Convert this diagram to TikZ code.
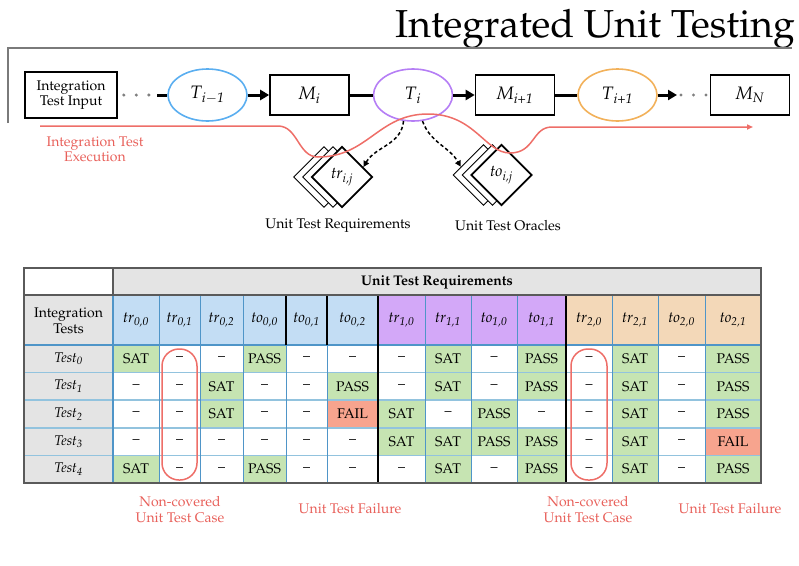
\documentclass[tikz,border=0pt]{standalone}
\usepackage[T1]{fontenc}
\usepackage{mathpazo}
\usetikzlibrary{shapes.geometric,arrows.meta}

\definecolor{tblue}{HTML}{5AAEF0}
\definecolor{tpurple}{HTML}{B57EF5}
\definecolor{torange}{HTML}{F2B15A}
\definecolor{execred}{HTML}{EE6E68}
\definecolor{notered}{HTML}{E8605A}
\definecolor{hblue}{HTML}{C3DDF4}
\definecolor{hpurple}{HTML}{D3A8F8}
\definecolor{hpeach}{HTML}{F3D8B8}
\definecolor{satgreen}{HTML}{C6E4B2}
\definecolor{failred}{HTML}{F7A48E}
\definecolor{hgray}{HTML}{E4E4E4}
\definecolor{frame}{HTML}{5A5A5A}
\definecolor{gridblue}{HTML}{4F95C8}
\definecolor{rowblue}{HTML}{92C3DE}
\definecolor{rulegray}{HTML}{7A7A7A}

% italic symbol with italic subscript
\newcommand{\lbl}[2]{\textit{#1}\textsubscript{\textit{#2}}}
\newcommand{\fs}[1]{\fontsize{#1}{#1}\selectfont}

% cell texts and fills by code
\def\txtS{SAT}\def\txtP{PASS}\def\txtF{FAIL}\def\txtD{--}
\def\colS{satgreen}\def\colP{satgreen}\def\colF{failred}\def\colD{white}
% column edges of the table
\def\xe{{113,159,200,243,286,327,378,425,471,517,566,612,658,705,761}}

\begin{document}
\begin{tikzpicture}[x=1pt,y=-1pt,
  inbox/.style={draw,line width=1.6pt,minimum width=92pt,minimum height=46pt,
    inner sep=0pt,align=center,font=\fontsize{14}{15.5}\selectfont},
  modbox/.style={draw,line width=1.6pt,minimum width=79pt,minimum height=40pt,
    inner sep=0pt,font=\fs{18}},
  stage/.style={ellipse,draw,line width=1.6pt,minimum width=79pt,minimum height=52pt,
    inner sep=0pt,font=\fs{18}},
  link/.style={line width=3pt},
  linkarrow/.style={line width=3pt,-{Triangle[length=9pt,width=10pt]}},
  flowdots/.style={line width=3.4pt,line cap=round,dash pattern=on 0pt off 12.5pt,color=gray},
  card/.style={diamond,draw,fill=white,minimum size=61pt,inner sep=0pt,line width=0.9pt},
  cardfront/.style={card,line width=1.8pt,font=\fs{16}},
  probe/.style={line width=1.5pt,dash pattern=on 3.5pt off 2.5pt,-{Triangle[length=6pt,width=6pt]}},
  exec/.style={execred,line width=1.5pt,-{Triangle[length=6pt,width=5pt]}},
  note/.style={text=notered,align=center,font=\fontsize{14}{15.5}\selectfont},
  caption/.style={font=\fs{14}},
  cell/.style={inner sep=0pt,font=\fs{14}},
  pill/.style={draw=execred,line width=1.5pt,rounded corners=17pt,inner sep=0pt}
]
\useasboundingbox (0,0) rectangle (799,565);

% ---------- title and frame ----------
\node[anchor=base east,font=\fs{39},inner sep=0pt] (title) at (795,37) {Integrated Unit Testing};
\draw[rulegray,line width=2pt] (8,123) -- (8,48) -- (792,48);

% ---------- integration flow ----------
\node[inbox] (input) at (71,95) {Integration\\Test Input};
\node[stage,draw=tblue] (tprev) at (207.5,95) {\lbl{T}{i$-$1}};
\node[modbox] (mi) at (309.5,95) {\lbl{M}{i}};
\node[stage,draw=tpurple] (ti) at (413,95) {\lbl{T}{i}};
\node[modbox] (mnext) at (515,95) {\lbl{M}{i+1}};
\node[stage,draw=torange] (tnext) at (617.5,95) {\lbl{T}{i+1}};
\node[modbox] (mn) at (750,95) {\lbl{M}{N}};

\coordinate (dl) at (157,95);
\coordinate (ar) at (677,95);
\draw[flowdots] ([xshift=6pt]input.east) -- ([xshift=-6pt]dl);
\draw[link] (dl) -- (tprev.west);
\draw[linkarrow] (tprev.east) -- (mi.west);
\draw[link] (mi.east) -- (ti.west);
\draw[linkarrow] (ti.east) -- (mnext.west);
\draw[link] (mnext.east) -- (tnext.west);
\draw[linkarrow] (tnext.east) -- (ar);
\draw[flowdots] ([xshift=4pt]ar) -- ([xshift=-3pt]mn.west);

% ---------- unit test requirement / oracle cards ----------
\node[card] (trA) at (324,177) {};
\node[card] (trB) at (333,177) {};
\node[cardfront] (trC) at (342,177) {\lbl{tr}{i,j}};
\node[card] (toA) at (483.5,175) {};
\node[card] (toB) at (492.5,175) {};
\node[cardfront] (toC) at (501.5,175) {\lbl{to}{i,j}};
\node[caption] (reqlbl) at (338,226) {Unit Test Requirements};
\node[caption] (orclbl) at (508,226) {Unit Test Oracles};

\draw[probe] (ti.250) to[out=-95,in=60] (trC.25);
\draw[probe] (ti.290) to[out=-70,in=120] (toA.160);

% ---------- integration test execution path ----------
\coordinate (es) at (40,126);
\coordinate (ee) at (753,127);
\draw[exec] (es) -- (278,126)
  .. controls (298,126) and (298,157) .. (318,157)
  .. controls (368,157) and (378,114) .. (428,114)
  .. controls (475,114) and (485,153) .. (510,153)
  .. controls (535,153) and (532,127) .. (552,127) -- (ee);
\node[note] (execlbl) at (95,149.5) {Integration Test\\Execution};

% ---------- table: header ----------
\fill[white] (24,268) rectangle (113,295);
\fill[hgray] (113,268) rectangle (761,295);
\node[font=\bfseries\fs{14}] (utr) at (437,282) {Unit Test Requirements};
\fill[hgray] (24,295) rectangle (113,483);
\node[align=center,font=\fontsize{14}{16}\selectfont] (itlbl) at (68.5,321) {Integration\\Tests};

\foreach \nm/\ix/\hc [count=\i] in {tr/{0,0}/hblue,tr/{0,1}/hblue,tr/{0,2}/hblue,
    to/{0,0}/hblue,to/{0,1}/hblue,to/{0,2}/hblue,tr/{1,0}/hpurple,tr/{1,1}/hpurple,
    to/{1,0}/hpurple,to/{1,1}/hpurple,tr/{2,0}/hpeach,tr/{2,1}/hpeach,
    to/{2,0}/hpeach,to/{2,1}/hpeach} {
  \pgfmathsetmacro\xl{\xe[\i-1]}
  \pgfmathsetmacro\xr{\xe[\i]}
  \pgfmathsetmacro\xc{(\xl+\xr)/2}
  \pgfmathsetmacro\cw{\xr-\xl}
  \node[cell,fill=\hc,minimum width=\cw pt,minimum height=50pt,font=\fs{15}] (h\i) at (\xc,320) {\lbl{\nm}{\ix}};
}

% ---------- table: body ----------
\foreach \vals [count=\r from 0] in {{S,D,D,P,D,D,D,S,D,P,D,S,D,P},
    {D,D,S,D,D,P,D,S,D,P,D,S,D,P},{D,D,S,D,D,F,S,D,P,D,D,S,D,P},
    {D,D,D,D,D,D,S,S,P,P,D,S,D,F},{S,D,D,P,D,D,D,S,D,P,D,S,D,P}} {
  \pgfmathsetmacro\yc{345+27.6*\r+13.8}
  \node[cell] (t\r) at (68.5,\yc) {\lbl{Test}{\r}};
  \foreach \v [count=\i] in \vals {
    \pgfmathsetmacro\xl{\xe[\i-1]}
    \pgfmathsetmacro\xr{\xe[\i]}
    \pgfmathsetmacro\xc{(\xl+\xr)/2}
    \pgfmathsetmacro\cw{\xr-\xl}
    \edef\fc{\csname col\v\endcsname}
    \node[cell,fill=\fc,minimum width=\cw pt,minimum height=27.6pt] (c\r-\i) at (\xc,\yc) {\csname txt\v\endcsname};
  }
}

% ---------- table: rules ----------
\foreach \k in {1,2,3,4} {
  \draw[rowblue,line width=1.6pt] (24,345+27.6*\k) -- (761,345+27.6*\k);
}
\draw[gridblue,line width=1.6pt] (24,345) -- (761,345);
\foreach \x in {159,200,243,286,327,425,471,517,612,658,705} {
  \draw[gridblue,line width=0.8pt] (\x,295) -- (\x,483);
}
\draw[gridblue,line width=1.2pt] (113,295) -- (113,483);
\draw[black,line width=2.6pt] (378,295) -- (378,483);
\draw[black,line width=2.6pt] (566,295) -- (566,483);
\draw[black,line width=2.6pt] (286,295) -- (286,345);
\draw[black,line width=2.6pt] (327,295) -- (327,345);
\draw[frame,line width=1.6pt] (24,295) -- (761,295);
\draw[frame,line width=1.6pt] (113,268) -- (113,295);
\draw[frame,line width=2pt] (24,268) rectangle (761,483);

% ---------- highlights ----------
\node[pill,minimum width=35pt,minimum height=131pt] (gap1) at (179.5,414.5) {};
\node[pill,minimum width=36pt,minimum height=131pt] (gap2) at (589,414.5) {};
\node[note] (nc1) at (180,509.5) {Non-covered\\Unit Test Case};
\node[note] (nc2) at (588,509.5) {Non-covered\\Unit Test Case};
\node[note] (uf1) at (350,509) {Unit Test Failure};
\node[note] (uf2) at (730,509) {Unit Test Failure};
\end{tikzpicture}
\end{document}
